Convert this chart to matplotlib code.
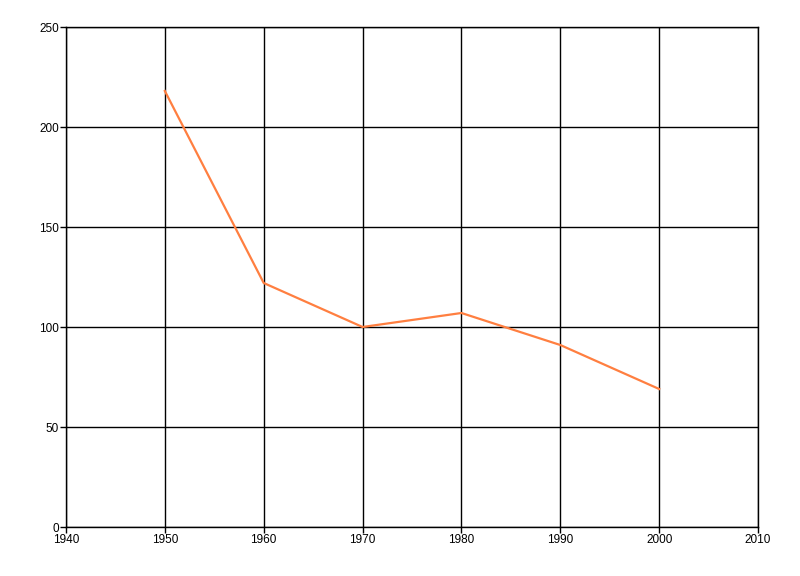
import matplotlib
matplotlib.use("Agg")
import matplotlib.pyplot as plt

# data
years = [1950, 1960, 1970, 1980, 1990, 2000]
values = [218, 122, 100, 107, 91, 69]
x_ticks = [1940, 1950, 1960, 1970, 1980, 1990, 2000, 2010]
y_ticks = [0, 50, 100, 150, 200, 250]

plt.rcParams["font.family"] = ["Liberation Sans", "DejaVu Sans"]

fig = plt.figure(figsize=(8, 5.76), dpi=100)
fig.patch.set_facecolor("white")
ax = fig.add_axes([66 / 800, 49 / 576, 692 / 800, 500 / 576])

ax.plot(years, values, color="#FF7F40", linewidth=1.6, solid_joinstyle="miter")

ax.set_xlim(1940, 2010)
ax.set_ylim(0, 250)
ax.set_xticks(x_ticks)
ax.set_yticks(y_ticks)
ax.grid(True, color="black", linewidth=1.0)
ax.set_axisbelow(True)

for s in ax.spines.values():
    s.set_color("black")
    s.set_linewidth(1.0)

ax.tick_params(axis="both", length=4, width=1, color="black",
               labelsize=8.5, pad=1)

fig.savefig("out.png", dpi=100, facecolor="white")
plt.close()
